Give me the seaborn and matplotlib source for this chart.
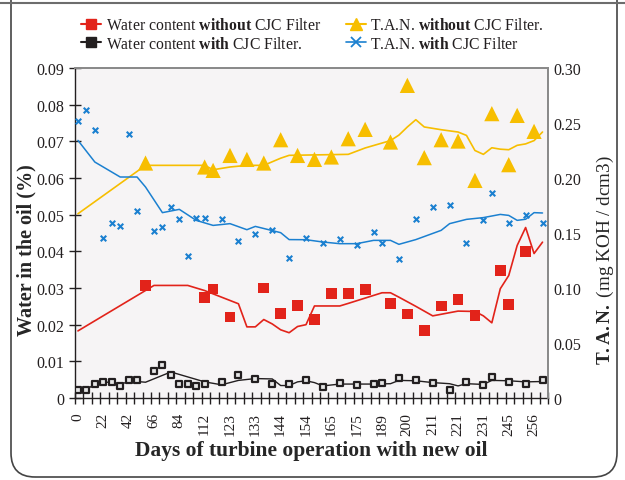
import numpy as np
import matplotlib
matplotlib.use("Agg")
import matplotlib.pyplot as plt
import seaborn as sns
from matplotlib.lines import Line2D
from matplotlib.patches import FancyBboxPatch
from matplotlib.transforms import IdentityTransform

# --- data (x = sampling index, 56 samples, every 3rd labelled) ---
day_labels = ['0', '22', '42', '66', '84', '112', '123', '133', '144', '154',
              '165', '175', '189', '200', '211', '221', '231', '245', '256']
label_idx = list(range(0, 55, 3))

# water content WITHOUT CJC filter (red squares) + trend line
water_no_idx = [8, 15, 16, 18, 22, 24, 26, 28, 30, 32, 34, 37, 39, 41, 43, 45, 47, 50, 51, 53]
water_no_val = [0.0307, 0.0274, 0.0297, 0.0221, 0.0300, 0.0230, 0.0253, 0.0214, 0.0286, 0.0284,
                0.0295, 0.0258, 0.0229, 0.0184, 0.0251, 0.0269, 0.0225, 0.0347, 0.0256, 0.0400]
water_no_trend_idx = [0, 9, 13, 15, 19, 20, 21, 22, 23, 24, 25, 26, 27, 28, 31, 32, 36, 37, 38,
                      40, 42, 45, 47, 48, 49, 50, 51, 52, 53, 54, 55]
water_no_trend_val = [0.0183, 0.0307, 0.0307, 0.0293, 0.0257, 0.0194, 0.0194, 0.0214, 0.0202,
                      0.0186, 0.0178, 0.0195, 0.0200, 0.0251, 0.0251, 0.0258, 0.0287, 0.0287,
                      0.0275, 0.0250, 0.0224, 0.0237, 0.0236, 0.0224, 0.0205, 0.0298, 0.0334,
                      0.0416, 0.0465, 0.0394, 0.0425]

# water content WITH CJC filter (black squares) + trend line
water_cjc_idx = [0, 1, 2, 3, 4, 5, 6, 7, 9, 10, 11, 12, 13, 14, 15, 17, 19, 21, 23, 25, 27,
                 29, 31, 33, 35, 36, 38, 40, 42, 44, 46, 48, 49, 51, 53, 55]
water_cjc_val = [0.0022, 0.0022, 0.0039, 0.0043, 0.0043, 0.0034, 0.0048, 0.0050, 0.0074, 0.0090,
                 0.0062, 0.0037, 0.0037, 0.0033, 0.0038, 0.0045, 0.0064, 0.0052, 0.0038, 0.0039,
                 0.0049, 0.0029, 0.0040, 0.0036, 0.0038, 0.0040, 0.0055, 0.0048, 0.0042, 0.0023,
                 0.0045, 0.0036, 0.0057, 0.0045, 0.0037, 0.0050]
water_cjc_trend_idx = [0, 1, 2, 3, 4, 5, 6, 7, 8, 11, 15, 17, 19, 21, 23, 24, 25, 26, 27, 28,
                       29, 31, 35, 37, 38, 40, 42, 44, 45, 46, 48, 49, 51, 53, 55]
water_cjc_trend_val = [0.0022, 0.0022, 0.0039, 0.0043, 0.0043, 0.0037, 0.0045, 0.0045, 0.0043,
                       0.0071, 0.0044, 0.0036, 0.0048, 0.0053, 0.0052, 0.0034, 0.0034, 0.0044,
                       0.0047, 0.0042, 0.0033, 0.0038, 0.0038, 0.0039, 0.0048, 0.0047, 0.0042,
                       0.0039, 0.0033, 0.0039, 0.0037, 0.0048, 0.0047, 0.0044, 0.0045]

# T.A.N. WITHOUT CJC filter (yellow triangles) + trend line
tan_no_idx = [8, 15, 16, 18, 20, 22, 24, 26, 28, 30, 32, 34, 37, 39, 41, 43, 45, 47, 49, 51, 52, 54]
tan_no_val = [0.2136, 0.2100, 0.2069, 0.2205, 0.2169, 0.2136, 0.2348, 0.2205, 0.2169, 0.2191,
              0.2357, 0.2442, 0.2327, 0.2842, 0.2185, 0.2348, 0.2336, 0.1978, 0.2585, 0.2121,
              0.2569, 0.2424]
tan_no_trend_idx = [0, 8, 15, 16, 18, 20, 22, 24, 25, 32, 34, 37, 38, 39, 40, 41, 43, 45, 46,
                    47, 48, 49, 50, 51, 52, 53, 54, 55]
tan_no_trend_val = [0.1675, 0.2115, 0.2115, 0.2075, 0.2100, 0.2115, 0.2115, 0.2180, 0.2206,
                    0.2215, 0.2273, 0.2340, 0.2390, 0.2464, 0.2530, 0.2464, 0.2439, 0.2418,
                    0.2387, 0.2250, 0.2215, 0.2275, 0.2262, 0.2257, 0.2297, 0.2310, 0.2340, 0.2418]

# T.A.N. WITH CJC filter (blue crosses) + trend line
tan_cjc_idx = [0, 1, 2, 3, 4, 5, 6, 7, 9, 10, 11, 12, 13, 14, 15, 17, 19, 21, 23, 25, 27, 29,
               31, 33, 35, 36, 38, 40, 42, 44, 46, 48, 49, 51, 53, 55]
tan_cjc_val = [0.2521, 0.2615, 0.2436, 0.1457, 0.1587, 0.1564, 0.2400, 0.1700, 0.1518, 0.1555,
               0.1739, 0.1627, 0.1287, 0.1636, 0.1636, 0.1627, 0.1424, 0.1487, 0.1530, 0.1273,
               0.1457, 0.1409, 0.1448, 0.1394, 0.1509, 0.1412, 0.1260, 0.1630, 0.1740, 0.1757,
               0.1409, 0.1621, 0.1866, 0.1594, 0.1666, 0.1594]
tan_cjc_trend_idx = [0, 2, 5, 7, 8, 10, 12, 14, 16, 18, 20, 21, 24, 25, 27, 29, 31, 33, 35, 37,
                     38, 40, 43, 44, 46, 48, 50, 51, 52, 53, 54, 55]
tan_cjc_trend_val = [0.2342, 0.2145, 0.2009, 0.2009, 0.1918, 0.1685, 0.1715, 0.1615, 0.1569,
                     0.1585, 0.1530, 0.1560, 0.1503, 0.1440, 0.1439, 0.1418, 0.1403, 0.1403,
                     0.1433, 0.1433, 0.1397, 0.1440, 0.1524, 0.1585, 0.1624, 0.1640, 0.1669,
                     0.1660, 0.1615, 0.1625, 0.1685, 0.1682]

RED = '#e2231a'
BLACK = '#231f20'
YELLOW = '#f7be00'
BLUE = '#1b80d0'

sns.set_style("white")
plt.rcParams['font.family'] = ['Liberation Serif', 'DejaVu Serif']
plt.rcParams['mathtext.fontset'] = 'custom'
plt.rcParams['mathtext.rm'] = 'Liberation Serif'
plt.rcParams['mathtext.bf'] = 'Liberation Serif:bold'
plt.rcParams['mathtext.it'] = 'Liberation Serif:italic'
plt.rcParams['text.color'] = BLACK

fig = plt.figure(figsize=(6.25, 4.81), dpi=100)
fig.subplots_adjust(left=75 / 625, right=548 / 625, bottom=1 - 399 / 481, top=1 - 69 / 481)
ax = fig.add_subplot(111)
ax.set_facecolor('#f6f4f5')
ax2 = ax.twinx()

# trend lines
sns.lineplot(x=water_no_trend_idx, y=water_no_trend_val, ax=ax, color=RED, linewidth=1.2)
sns.lineplot(x=water_cjc_trend_idx, y=water_cjc_trend_val, ax=ax, color=BLACK, linewidth=1.0)
sns.lineplot(x=tan_no_trend_idx, y=tan_no_trend_val, ax=ax2, color=YELLOW, linewidth=1.2)
sns.lineplot(x=tan_cjc_trend_idx, y=tan_cjc_trend_val, ax=ax2, color=BLUE, linewidth=1.1)

# measured points
sns.scatterplot(x=water_no_idx, y=water_no_val, ax=ax, marker='s', s=60, color=RED,
                edgecolor='none', zorder=5)
sns.scatterplot(x=water_cjc_idx, y=water_cjc_val, ax=ax, marker='s', s=22, color='#e6e6e6',
                edgecolor=BLACK, linewidth=1.6, zorder=5)
sns.scatterplot(x=tan_no_idx, y=tan_no_val, ax=ax2, marker='^', s=120, color=YELLOW,
                edgecolor='none', zorder=5)
sns.scatterplot(x=tan_cjc_idx, y=tan_cjc_val, ax=ax2, marker='x', s=16, color=BLUE,
                linewidth=1.5, zorder=5)

# axes
ax.set_xlim(-0.35, 55.65)
ax.set_ylim(0, 0.09)
ax2.set_ylim(0, 0.30)
ax.set_yticks(np.arange(0, 0.0901, 0.01))
ax.set_yticklabels(['0'] + ['%.2f' % v for v in np.arange(0.01, 0.0901, 0.01)])
ax2.set_yticks(np.arange(0, 0.301, 0.05))
ax2.set_yticklabels(['0'] + ['%.2f' % v for v in np.arange(0.05, 0.301, 0.05)])
ax.set_xticks(label_idx)
ax.set_xticklabels(day_labels, rotation=90)
ax.set_xticks(np.arange(-0.35, 55.7, 1), minor=True)
ax.tick_params(axis='x', which='major', length=0, pad=10, labelsize=11, colors=BLACK)
ax.tick_params(axis='x', which='minor', direction='inout', length=8, width=1, color=BLACK,
               bottom=True)
ax.tick_params(axis='y', direction='inout', length=8, width=1, color=BLACK, labelsize=11.5,
               labelcolor=BLACK, left=True)
ax2.tick_params(axis='y', length=0, pad=4, labelsize=11.5, labelcolor=BLACK)

for a in (ax, ax2):
    for side in ('top', 'right'):
        a.spines[side].set_color('#8a8a8a')
        a.spines[side].set_linewidth(1.3)
    for side in ('left', 'bottom'):
        a.spines[side].set_color(BLACK)
        a.spines[side].set_linewidth(1.0)
    a.spines['left'].set_visible(a is ax)
    a.spines['bottom'].set_visible(a is ax)

ax.set_xlabel('Days of turbine operation with new oil', fontsize=15.5, fontweight='bold')
ax.xaxis.set_label_coords(0.5, -0.127)
ax.set_ylabel('Water in the oil (%)', fontsize=14.5, fontweight='bold')
ax.yaxis.set_label_coords(-0.082, 0.45)
ax2.set_ylabel(r'$\mathbf{T.A.N.}$ (mg KOH / dcm3)', fontsize=13.8)
ax2.yaxis.set_label_coords(1.099, 0.42)

# legend
handles = [
    Line2D([], [], color=RED, lw=1.5, marker='s', ms=7, mec=RED),
    Line2D([], [], color=BLACK, lw=1.5, marker='s', ms=7, mec=BLACK),
    Line2D([], [], color=YELLOW, lw=1.5, marker='^', ms=9, mec=YELLOW),
    Line2D([], [], color=BLUE, lw=1.2, marker='x', ms=7, mew=1.3),
]
labels = [r'Water content $\mathbf{without}$ CJC Filter',
          r'Water content $\mathbf{with}$ CJC Filter.',
          r'T.A.N. $\mathbf{without}$ CJC Filter.',
          r'T.A.N. $\mathbf{with}$ CJC Filter']
fig.legend(handles, labels, ncol=2, loc='upper left', bbox_to_anchor=(75 / 625, 1 - 12 / 481),
           frameon=False, fontsize=11.3, handlelength=1.25, handletextpad=0.3,
           columnspacing=1.6, labelspacing=0.15, borderaxespad=0)

# outer frame of the figure
fig.add_artist(Line2D([0, 1], [1 - 3.5 / 481, 1 - 3.5 / 481], transform=fig.transFigure,
                      color='#6d6d6d', lw=1.5))
fig.add_artist(FancyBboxPatch((11, 3), 606, 560, boxstyle='round,pad=0,rounding_size=24',
                              transform=IdentityTransform(), facecolor='none',
                              edgecolor='#444444', lw=1.2))

fig.savefig('out.png', dpi=100)
